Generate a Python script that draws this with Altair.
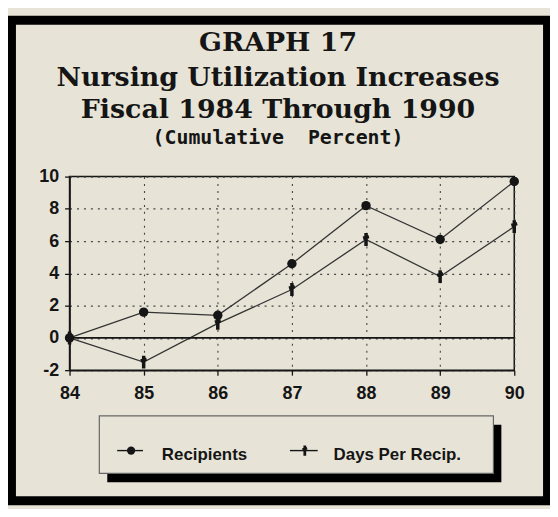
import altair as alt
import pandas as pd

# ---- data ----
years = [84, 85, 86, 87, 88, 89, 90]
recipients = [0, 1.6, 1.4, 4.6, 8.2, 6.1, 9.7]
days_per_recip = [0, -1.5, 0.9, 3.0, 6.1, 3.8, 6.9]
series_names = ["Recipients", "Days Per Recip."]
y_ticks = [-2, 0, 2, 4, 6, 8, 10]
title_lines = ["GRAPH 17", "Nursing Utilization Increases", "Fiscal 1984 Through 1990"]
subtitle_text = "(Cumulative\u00a0 Percent)"

BG = "#e7e4d7"
INK = "#151515"
W, H = 448, 195
PAD = {"left": 62, "top": 168, "right": 36, "bottom": 138}

df = pd.DataFrame({
    "year": years * 2,
    "value": recipients + days_per_recip,
    "series": [series_names[0]] * len(years) + [series_names[1]] * len(years),
})
rec_df = df[df.series == series_names[0]]
day_df = df[df.series == series_names[1]]
one = pd.DataFrame({"k": [0]})

X_AXIS = alt.Axis(values=years, format="d", title=None, labelPadding=10,
                  labelFlush=False, labelOverlap=False, tickCount=7)
Y_AXIS = alt.Axis(values=y_ticks, title=None, labelPadding=6, tickCount=7,
                  labelFlush=False, labelOverlap=False, labelExpr="'' + datum.value")
X_SCALE = alt.Scale(domain=[84, 90], nice=False, zero=False)
Y_SCALE = alt.Scale(domain=[-2, 10], nice=False, zero=False)


def xe():
    return alt.X("year:Q", scale=X_SCALE, axis=X_AXIS)


def ye():
    return alt.Y("value:Q", scale=Y_SCALE, axis=Y_AXIS)


lines = alt.Chart(df).mark_line(color="#333333", strokeWidth=1.3).encode(
    x=xe(), y=ye(), detail="series:N")

zero_rule = alt.Chart(pd.DataFrame({"value": [0]})).mark_rule(
    color=INK, strokeWidth=1.6).encode(y=ye())

DAY_SHAPE = "M0,-1L0,1M-0.45,-0.2L0.45,-0.45"

rec_pts = alt.Chart(rec_df).mark_point(
    shape="circle", filled=True, size=90, color=INK, opacity=1).encode(x=xe(), y=ye())
day_pts = alt.Chart(day_df).mark_point(
    shape=DAY_SHAPE, filled=False, size=170, color=INK, strokeWidth=3.5, opacity=1).encode(
    x=xe(), y=ye())

# frame around the whole figure
frame = alt.Chart(one).mark_rect(fillOpacity=0, stroke="#000000", strokeWidth=9).encode(
    x=alt.value(-58.5), x2=alt.value(481.5), y=alt.value(-157.5), y2=alt.value(326.5))


# titles
def text_layer(t, y, font, size, weight="bold"):
    return alt.Chart(pd.DataFrame({"t": [t]})).mark_text(
        font=font, fontSize=size, fontWeight=weight, color=INK,
        align="center", baseline="alphabetic").encode(
        x=alt.value(210), y=alt.value(y), text="t:N")


titles = [
    text_layer(title_lines[0], -127, "DejaVu Serif", 27),
    text_layer(title_lines[1], -91, "DejaVu Serif", 27),
    text_layer(title_lines[2], -59, "DejaVu Serif", 27),
    text_layer(subtitle_text, -33, "DejaVu Sans Mono", 20),
]

# legend box with shadow
shadow = alt.Chart(one).mark_rect(fill="#000000").encode(
    x=alt.value(38), x2=alt.value(435), y=alt.value(250), y2=alt.value(308))
lbox = alt.Chart(one).mark_rect(fill=BG, stroke="#666666", strokeWidth=1.2).encode(
    x=alt.value(30), x2=alt.value(427), y=alt.value(241), y2=alt.value(299))
leg_line1 = alt.Chart(one).mark_rule(color=INK, strokeWidth=1.4).encode(
    x=alt.value(48), x2=alt.value(74), y=alt.value(276))
leg_line2 = alt.Chart(one).mark_rule(color=INK, strokeWidth=1.4).encode(
    x=alt.value(222), x2=alt.value(250), y=alt.value(276))
leg_pt1 = alt.Chart(one).mark_point(shape="circle", filled=True, size=70, color=INK, opacity=1).encode(
    x=alt.value(62), y=alt.value(276))
leg_pt2 = alt.Chart(one).mark_point(shape=DAY_SHAPE, filled=False, size=110, color=INK,
                                    strokeWidth=2.8, opacity=1).encode(
    x=alt.value(237), y=alt.value(276))
leg_df = pd.DataFrame({"t": series_names})
leg_txt1 = alt.Chart(leg_df.iloc[[0]]).mark_text(
    font="Liberation Sans", fontSize=17, fontWeight="bold", color=INK,
    align="left", baseline="alphabetic").encode(x=alt.value(93), y=alt.value(285), text="t:N")
leg_txt2 = alt.Chart(leg_df.iloc[[1]]).mark_text(
    font="Liberation Sans", fontSize=17, fontWeight="bold", color=INK,
    align="left", baseline="alphabetic").encode(x=alt.value(266), y=alt.value(285), text="t:N")

chart = alt.layer(
    frame, *titles, lines, zero_rule, rec_pts, day_pts,
    shadow, lbox, leg_line1, leg_line2, leg_pt1, leg_pt2, leg_txt1, leg_txt2,
).properties(
    width=W, height=H, padding=PAD, autosize=alt.AutoSizeParams(type="none"),
).configure(background=BG).configure_view(
    stroke=INK, strokeWidth=1.5,
).configure_axis(
    labelFont="Liberation Sans", labelFontSize=18, labelFontWeight="bold", labelColor=INK,
    domainColor=INK, domainWidth=1.5, tickColor=INK, tickSize=5, tickWidth=1.3,
    grid=True, gridColor="#444444", gridDash=[2, 5], gridWidth=1.1,
)

chart.save("out.html", embed_options={"renderer": "svg", "actions": False})
